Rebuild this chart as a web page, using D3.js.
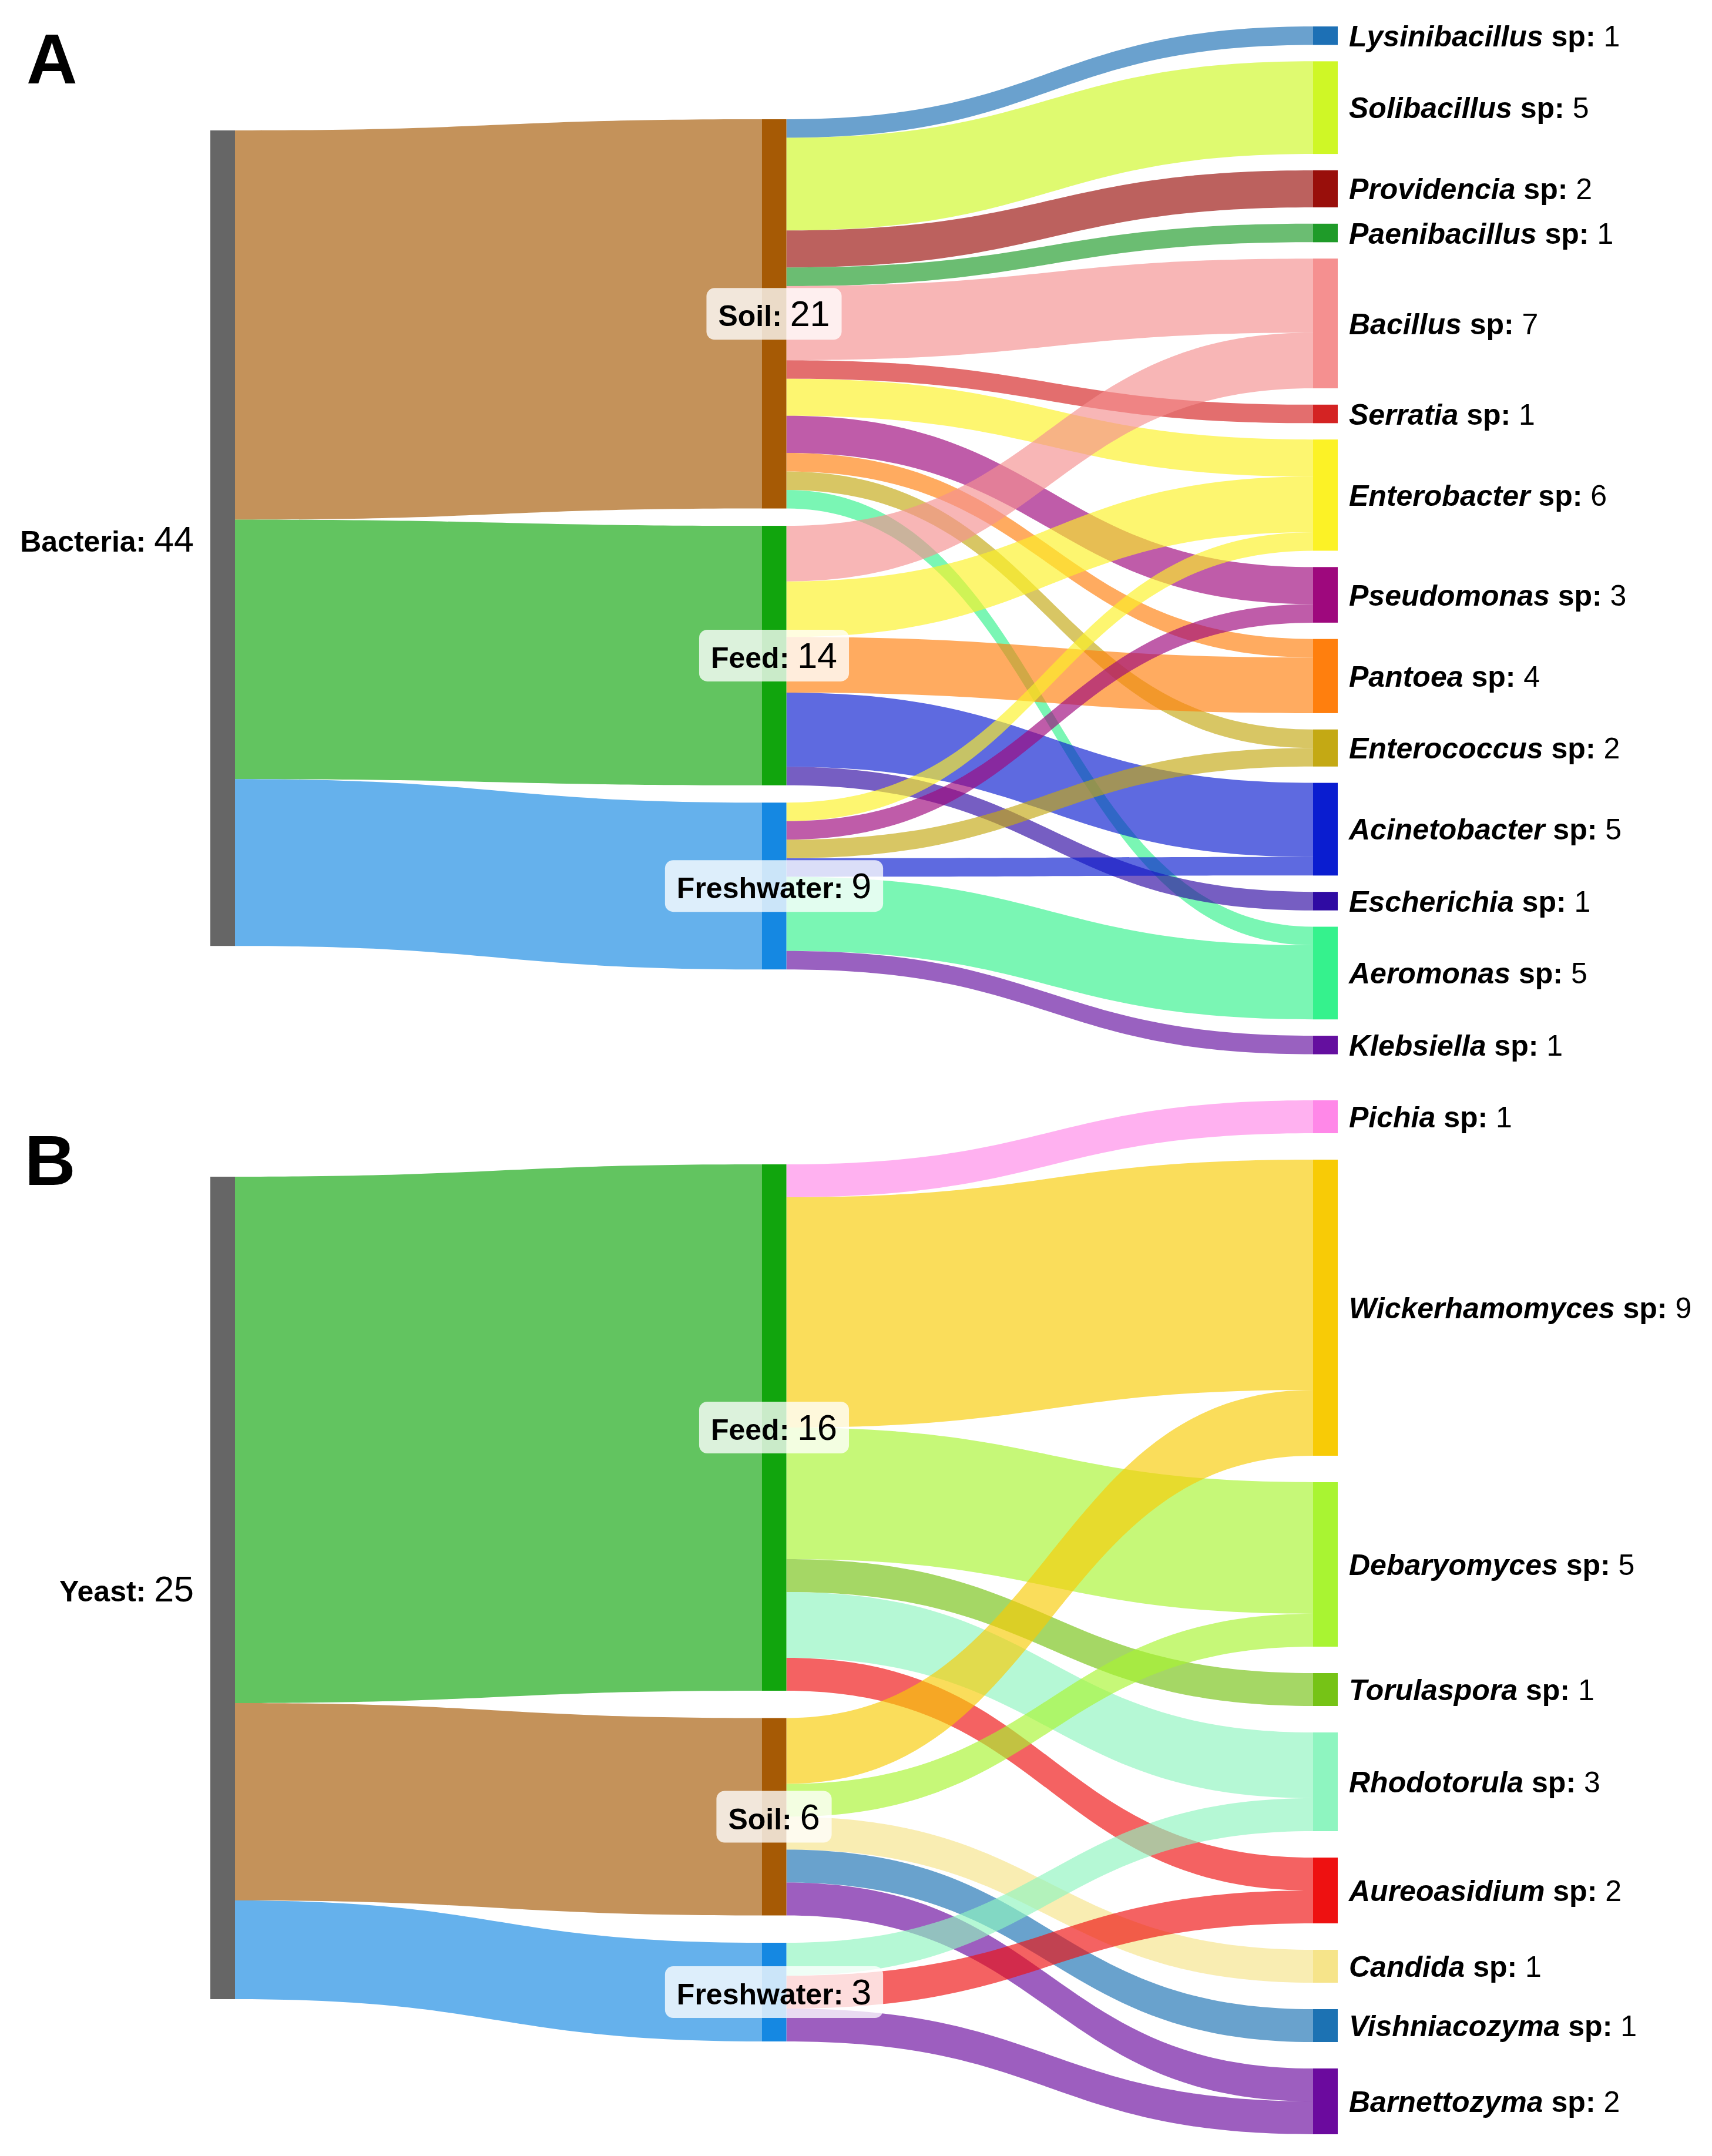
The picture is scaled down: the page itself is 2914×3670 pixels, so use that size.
<!DOCTYPE html>
<html>
<head>
<meta charset="utf-8">
<script src="https://cdn.jsdelivr.net/npm/d3@7"></script>
<style>
  html, body { margin: 0; padding: 0; background: #ffffff; }
  svg { display: block; }
</style>
</head>
<body>
<svg id="chart" width="2914" height="3670"></svg>
<script>
// ---------------- DATA ----------------
// Panel A: bacteria
const bacteriaRoot = "Bacteria";
const bacteriaSources = ["Soil", "Feed", "Freshwater"];
const bacteriaGenera = ["Lysinibacillus", "Solibacillus", "Providencia", "Paenibacillus", "Bacillus",
  "Serratia", "Enterobacter", "Pseudomonas", "Pantoea", "Enterococcus", "Acinetobacter",
  "Escherichia", "Aeromonas", "Klebsiella"];
const bacteriaFromSoil       = [1, 5, 2, 1, 4, 1, 2, 2, 1, 1, 0, 0, 1, 0];
const bacteriaFromFeed       = [0, 0, 0, 0, 3, 0, 3, 0, 3, 0, 4, 1, 0, 0];
const bacteriaFromFreshwater = [0, 0, 0, 0, 0, 0, 1, 1, 0, 1, 1, 0, 4, 1];

// Panel B: yeast
const yeastRoot = "Yeast";
const yeastSources = ["Feed", "Soil", "Freshwater"];
const yeastGenera = ["Pichia", "Wickerhamomyces", "Debaryomyces", "Torulaspora", "Rhodotorula",
  "Aureoasidium", "Candida", "Vishniacozyma", "Barnettozyma"];
const yeastFromFeed       = [1, 7, 4, 1, 2, 1, 0, 0, 0];
const yeastFromSoil       = [0, 2, 1, 0, 0, 0, 1, 1, 1];
const yeastFromFreshwater = [0, 0, 0, 0, 1, 1, 0, 0, 1];

// ---------------- STYLES ----------------
const rootColor = "#666666";
const sourceColors = { Soil: "#a65a05", Feed: "#11a50d", Freshwater: "#1588e2" };
const bacteriaColors = ["#1d70b5", "#cff726", "#990f0b", "#1f9b29", "#f59090", "#d42323",
  "#fcf226", "#9e087d", "#ff7f0e", "#c4a914", "#0a1dd0", "#2f0ba3", "#35f28d", "#640f9f"];
const yeastColors = ["#ff88e8", "#f8cb06", "#a9f432", "#76c316", "#8ef5c0", "#ee1111",
  "#f6e48a", "#1c72b3", "#6b0a9e"];

const FONT = "'Liberation Sans', Arial, Helvetica, sans-serif";
const linkOpacity = 0.66;

const layoutA = { unit: 31.55, tops: [222, 203, 45], gaps: [0, 29.5, 27.8], letter: "A", letterX: 45, letterY: 142 };
const layoutB = { unit: 56.0, tops: [2003, 1982, 1873], gaps: [0, 46.5, 45], letter: "B", letterX: 42, letterY: 2017 };

const svg = d3.select("#chart");
svg.append("rect").attr("width", 2914).attr("height", 3670).attr("fill", "#ffffff");

function drawPanel(cfg, layout) {
  const g = svg.append("g");
  const yv = d3.scaleLinear().domain([0, 1]).range([0, layout.unit]);
  const colX = d3.scalePoint().domain([0, 1, 2]).range([358, 2235]);
  const nodeW = 42;

  const sourceTotals = cfg.matrix.map(r => d3.sum(r));
  const generaTotals = cfg.genera.map((_, j) => d3.sum(cfg.matrix, r => r[j]));
  const total = d3.sum(sourceTotals);

  const root = { name: cfg.root, value: total, col: 0, color: rootColor };
  const mids = cfg.sources.map((s, i) => ({ name: s, value: sourceTotals[i], col: 1, color: sourceColors[s] }));
  const rights = cfg.genera.map((gname, j) => ({ name: gname, value: generaTotals[j], col: 2, color: cfg.colors[j] }));
  const columns = [[root], mids, rights];
  columns.forEach((col, c) => {
    let yy = layout.tops[c];
    col.forEach(n => {
      n.x0 = colX(c); n.x1 = n.x0 + nodeW;
      n.y0 = yy; n.y1 = yy + yv(n.value);
      yy = n.y1 + layout.gaps[c];
      n.out = []; n.inc = [];
    });
  });

  const links = [];
  mids.forEach(m => links.push({ source: root, target: m, value: m.value }));
  cfg.matrix.forEach((row, i) => row.forEach((v, j) => {
    if (v > 0) links.push({ source: mids[i], target: rights[j], value: v });
  }));
  links.forEach(l => { l.source.out.push(l); l.target.inc.push(l); });
  [root, ...mids, ...rights].forEach(n => {
    n.out.sort((a, b) => a.target.y0 - b.target.y0);
    let yy = n.y0;
    n.out.forEach(l => { l.sy0 = yy; yy += yv(l.value); l.sy1 = yy; });
    n.inc.sort((a, b) => a.source.y0 - b.source.y0);
    yy = n.y0;
    n.inc.forEach(l => { l.ty0 = yy; yy += yv(l.value); l.ty1 = yy; });
  });

  function ribbon(l) {
    const x0 = l.source.x1, x1 = l.target.x0, xm = (x0 + x1) / 2;
    const p = d3.path();
    p.moveTo(x0, l.sy0);
    p.bezierCurveTo(xm, l.sy0, xm, l.ty0, x1, l.ty0);
    p.lineTo(x1, l.ty1);
    p.bezierCurveTo(xm, l.ty1, xm, l.sy1, x0, l.sy1);
    p.closePath();
    return p.toString();
  }

  g.append("g").selectAll("path").data(links).join("path")
    .attr("d", ribbon)
    .attr("fill", l => l.target.color)
    .attr("fill-opacity", linkOpacity);

  g.append("g").selectAll("rect").data([root, ...mids, ...rights]).join("rect")
    .attr("x", n => n.x0).attr("y", n => n.y0)
    .attr("width", n => n.x1 - n.x0).attr("height", n => n.y1 - n.y0)
    .attr("fill", n => n.color);

  // Root label (left)
  const rl = g.append("text")
    .attr("x", root.x0 - 28).attr("y", (root.y0 + root.y1) / 2 + 23)
    .attr("text-anchor", "end").attr("font-family", FONT).attr("fill", "#000");
  rl.append("tspan").attr("font-weight", "bold").attr("font-size", 50).text(root.name + ": ");
  rl.append("tspan").attr("font-size", 61).text(root.value);

  // Middle labels with rounded translucent boxes
  const midLayer = g.append("g");
  mids.forEach(m => {
    const cx = (m.x0 + m.x1) / 2, cy = (m.y0 + m.y1) / 2;
    const box = midLayer.append("rect");
    const t = midLayer.append("text")
      .attr("x", cx).attr("y", cy + 21)
      .attr("text-anchor", "middle").attr("font-family", FONT).attr("fill", "#000");
    t.append("tspan").attr("font-weight", "bold").attr("font-size", 50).text(m.name + ": ");
    t.append("tspan").attr("font-size", 61).text(m.value);
    const bb = t.node().getBBox();
    box.attr("x", bb.x - 20).attr("y", cy - 44)
      .attr("width", bb.width + 40).attr("height", 88)
      .attr("rx", 14).attr("ry", 14)
      .attr("fill", "#ffffff").attr("fill-opacity", 0.78);
  });

  // Right labels
  rights.forEach(n => {
    const t = g.append("text")
      .attr("x", n.x1 + 19).attr("y", (n.y0 + n.y1) / 2 + 18)
      .attr("font-family", FONT).attr("font-size", 50).attr("fill", "#000");
    t.append("tspan").attr("font-weight", "bold").attr("font-style", "italic").text(n.name);
    t.append("tspan").attr("font-weight", "bold").text(" sp:");
    t.append("tspan").text(" " + n.value);
  });

  // Panel letter
  g.append("text").attr("x", layout.letterX).attr("y", layout.letterY)
    .attr("font-family", FONT).attr("font-weight", "bold").attr("font-size", 120)
    .attr("fill", "#000").text(layout.letter);
}

drawPanel({
  root: bacteriaRoot, sources: bacteriaSources, genera: bacteriaGenera,
  matrix: [bacteriaFromSoil, bacteriaFromFeed, bacteriaFromFreshwater],
  colors: bacteriaColors
}, layoutA);

drawPanel({
  root: yeastRoot, sources: yeastSources, genera: yeastGenera,
  matrix: [yeastFromFeed, yeastFromSoil, yeastFromFreshwater],
  colors: yeastColors
}, layoutB);
</script>
</body>
</html>
